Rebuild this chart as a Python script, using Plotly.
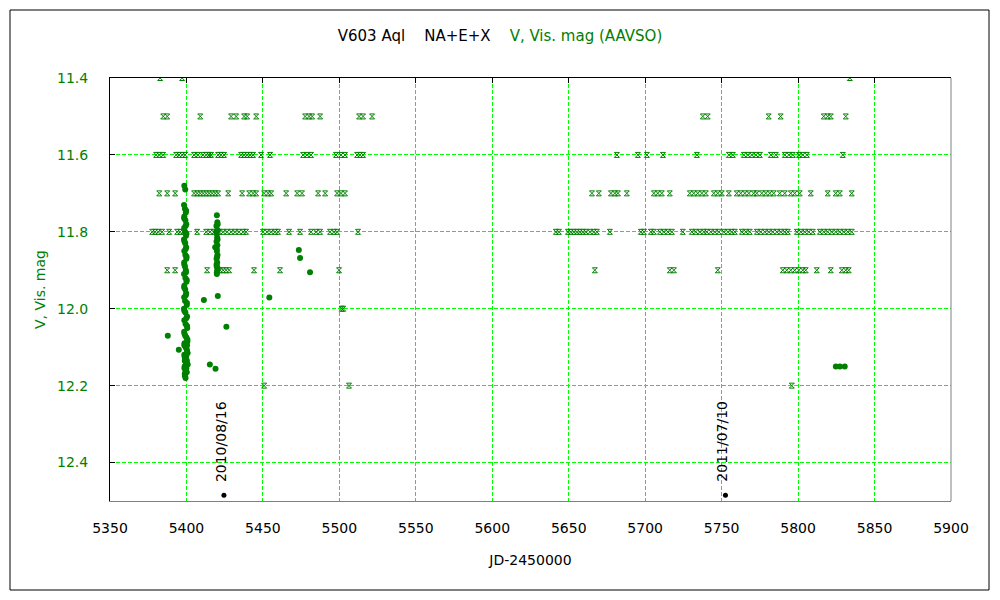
import plotly.graph_objects as go

# ---------------- data ----------------
# Visual estimates (AAVSO), JD-2450000 grouped by magnitude row
vis_11_4 = [5382.8, 5397.2, 5833.8]
vis_11_5 = [5384.8, 5387.4, 5409.0, 5429.2, 5432.5, 5437.7, 5439.7, 5445.6, 5477.6, 5480.2,
            5482.2, 5487.4, 5512.9, 5515.5, 5521.4, 5737.7, 5740.9, 5780.8, 5788.6, 5816.8,
            5819.4, 5821.4, 5831.2]
vis_11_6 = [5380.2, 5382.2, 5384.8, 5393.3, 5395.2, 5397.2, 5399.2, 5405.0, 5407.6, 5410.9,
            5412.9, 5414.8, 5416.1, 5420.7, 5422.7, 5424.6, 5435.8, 5437.7, 5439.7, 5441.6,
            5443.6, 5448.8, 5454.7, 5476.3, 5478.9, 5481.5, 5497.8, 5501.1, 5503.7, 5511.6,
            5513.5, 5515.5,
            5681.5, 5695.2, 5701.1, 5711.6, 5733.8, 5754.7, 5757.3, 5764.5, 5767.1, 5769.7,
            5772.4, 5775.0, 5782.2, 5785.4, 5791.3, 5793.9, 5796.5, 5800.5, 5803.1, 5805.7,
            5829.2]
vis_11_7 = [5382.2, 5387.4, 5392.6, 5405.0, 5407.0, 5409.0, 5410.9, 5412.9, 5414.8, 5416.8,
            5418.8, 5420.7, 5427.3, 5436.4, 5441.0, 5443.6, 5445.6, 5450.8, 5453.4, 5455.4,
            5465.2, 5472.4, 5475.6, 5486.1, 5490.7, 5498.5, 5501.1, 5503.7,
            5665.2, 5669.7, 5677.6, 5680.2, 5682.2, 5688.0, 5705.7, 5708.3, 5710.9, 5716.1,
            5729.2, 5731.8, 5734.4, 5737.1, 5739.7, 5744.9, 5747.5, 5750.1, 5754.7, 5759.9,
            5762.5, 5765.2, 5767.8, 5771.0, 5773.0, 5776.3, 5778.9, 5781.5, 5784.1, 5788.0,
            5791.3, 5795.2, 5797.8, 5801.1, 5808.3, 5819.4, 5824.6, 5827.3, 5835.1]
vis_11_8 = [5377.6, 5379.5, 5381.5, 5384.1, 5388.7, 5393.9, 5395.9, 5397.8, 5407.0, 5412.9,
            5415.5, 5418.1, 5421.4, 5424.0, 5426.6, 5429.2, 5431.8, 5434.4, 5437.1, 5439.0,
            5450.1, 5452.7, 5455.4, 5458.0, 5459.9, 5467.1, 5474.3, 5481.5, 5484.8, 5487.4,
            5493.9, 5496.5, 5498.5, 5512.2,
            5641.6, 5643.6, 5649.5, 5651.4, 5653.4, 5655.4, 5657.3, 5659.3, 5661.2, 5663.9,
            5666.5, 5668.4, 5676.9, 5697.2, 5699.2, 5703.7, 5705.7, 5709.6, 5712.2, 5714.8,
            5717.5, 5724.6, 5730.5, 5733.1, 5735.8, 5738.4, 5740.3, 5742.9, 5745.6, 5748.2,
            5751.4, 5754.1, 5756.7, 5758.6, 5763.2, 5765.8, 5768.4, 5773.0, 5775.6, 5778.2,
            5780.9, 5783.5, 5786.1, 5788.7, 5791.3, 5793.3, 5799.2, 5801.8, 5804.4, 5807.0,
            5809.6, 5814.2, 5816.8, 5819.4, 5822.0, 5824.6, 5827.3, 5829.9, 5832.5, 5835.1]
vis_11_9 = [5387.4, 5392.6, 5413.5, 5422.0, 5424.0, 5425.9, 5427.9, 5444.2, 5461.2, 5499.8,
            5667.1, 5716.1, 5718.8, 5747.5, 5790.0, 5792.6, 5795.2, 5797.8, 5800.5, 5803.1,
            5805.0, 5812.2, 5821.4, 5828.6, 5831.2, 5833.1]
vis_12_0 = [5501.5, 5502.5]
vis_12_2 = [5450.8, 5506.3, 5795.9]

vis_rows = {11.4: vis_11_4, 11.5: vis_11_5, 11.6: vis_11_6, 11.7: vis_11_7,
            11.8: vis_11_8, 11.9: vis_11_9, 12.0: vis_12_0, 12.2: vis_12_2}

# V-band photometry (AAVSO)
v_jd = [5398.6, 5399.2,
        5398.4, 5399.0, 5399.6, 5398.6, 5399.3, 5399.9, 5398.5, 5399.1, 5399.7, 5398.4,
        5399.2, 5399.8, 5398.6, 5399.3, 5399.9, 5398.5, 5399.0, 5399.6, 5398.4, 5399.3,
        5400.0, 5398.6, 5399.2, 5399.8, 5398.5, 5399.1, 5400.2, 5398.4, 5399.3, 5400.4,
        5398.6, 5399.4, 5400.5, 5398.5, 5399.2, 5400.6, 5398.7, 5399.5, 5400.4, 5398.6,
        5399.3, 5400.1, 5398.8, 5399.6, 5398.9, 5399.4,
        5399.8, 5398.5, 5399.4, 5400.0, 5398.7, 5399.5, 5400.1, 5398.6, 5399.7, 5400.2,
        5398.5, 5399.6, 5400.3, 5398.6, 5399.9, 5400.4, 5398.7, 5400.0, 5400.6, 5398.6,
        5400.1, 5400.7, 5398.8, 5400.3, 5400.8, 5398.7, 5400.2, 5400.6, 5398.9, 5399.9,
        5400.4, 5399.0, 5399.8, 5399.3, 5399.6,
        5419.9, 5420.2, 5419.6, 5420.3, 5419.8, 5420.1, 5419.7, 5420.2, 5418.8, 5419.9,
        5420.3, 5419.7, 5420.1, 5419.8, 5420.2, 5419.9, 5420.5,
        5420.4, 5419.6, 5420.3, 5419.8, 5420.0, 5419.7, 5420.4, 5419.9,
        5411.4, 5387.8, 5395.0, 5415.3, 5419.0, 5426.1, 5454.2, 5473.5, 5474.3, 5480.8,
        5824.7, 5827.3, 5830.5]
v_mag = [11.68, 11.69,
         11.73, 11.74, 11.75, 11.76, 11.77, 11.78, 11.79, 11.80, 11.81, 11.82,
         11.83, 11.84, 11.85, 11.86, 11.87, 11.88, 11.89, 11.90, 11.91, 11.92,
         11.93, 11.94, 11.95, 11.96, 11.97, 11.98, 11.99, 12.00, 12.01, 12.02,
         12.03, 12.04, 12.05, 12.06, 12.07, 12.08, 12.09, 12.10, 12.11, 12.12,
         12.13, 12.14, 12.15, 12.16, 12.17, 12.18,
         11.745, 11.765, 11.785, 11.805, 11.825, 11.845, 11.865, 11.885, 11.905, 11.925,
         11.945, 11.965, 11.985, 12.005, 12.025, 12.045, 12.065, 12.075, 12.085, 12.095,
         12.105, 12.115, 12.125, 12.135, 12.145, 12.155, 12.165, 12.115, 12.135, 12.155,
         12.095, 12.175, 12.125, 12.165, 12.145,
         11.757, 11.775, 11.785, 11.795, 11.805, 11.815, 11.825, 11.835, 11.84, 11.85,
         11.86, 11.87, 11.88, 11.89, 11.90, 11.91, 11.967,
         11.78, 11.80, 11.82, 11.845, 11.865, 11.885, 11.895, 11.905,
         11.977, 12.07, 12.107, 12.145, 12.156, 12.047, 11.971, 11.847, 11.868, 11.905,
         12.15, 12.15, 12.15]

# Observation epochs marked on the chart
event_jd = [5424.5, 5752.5]
event_label = ["2010/08/16", "2011/07/10"]
event_mag = [12.485, 12.485]

x_range = [5350, 5900]
y_range = [12.5, 11.4]

GREEN = "#008000"
LIME = "#00ff00"
FONT = "DejaVu Sans"

fig = go.Figure()

vx, vy = [], []
for mag, jds in vis_rows.items():
    vx += jds
    vy += [mag] * len(jds)

fig.add_trace(go.Scatter(
    x=vx, y=vy, mode="markers",
    marker=dict(symbol="hourglass-open", size=5, color=GREEN,
                line=dict(width=1, color=GREEN)),
    showlegend=False))

fig.add_trace(go.Scatter(
    x=v_jd, y=v_mag, mode="markers",
    marker=dict(symbol="circle", size=6, color=GREEN, line=dict(width=0)),
    showlegend=False))

fig.add_trace(go.Scatter(
    x=event_jd, y=event_mag, mode="markers",
    marker=dict(symbol="circle", size=5, color="black", line=dict(width=0)),
    showlegend=False))

# invisible trace for the top tick axis
fig.add_trace(go.Scatter(x=x_range, y=[12.5, 12.5], xaxis="x2", mode="markers",
                         marker=dict(opacity=0), showlegend=False, hoverinfo="skip"))

for jd, lab in zip(event_jd, event_label):
    fig.add_annotation(x=jd, y=12.455, text=lab, textangle=-90, showarrow=False,
                       xanchor="center", yanchor="bottom", xshift=-3,
                       font=dict(family=FONT, size=14, color="black"))

fig.update_layout(
    width=1000, height=600,
    template="none",
    paper_bgcolor="white", plot_bgcolor="white",
    font=dict(family=FONT, size=14, color="black"),
    margin=dict(l=110, r=49, t=78, b=99, autoexpand=False),
    title=dict(
        text="V603 Aql\u00a0\u00a0\u00a0\u00a0NA+E+X\u00a0\u00a0\u00a0\u00a0"
             "<span style='color:#008000'>V, Vis. mag (AAVSO)</span>",
        x=0.5, xref="container", xanchor="center",
        y=1 - 36 / 600, yref="container", yanchor="middle",
        font=dict(family=FONT, size=15, color="black")),
    xaxis=dict(
        range=x_range, tick0=5350, dtick=50,
        showgrid=True, gridcolor=LIME, griddash="4px,2px", gridwidth=1,
        zeroline=False, showline=True, linecolor="#808080", linewidth=1,
        ticks="", ticklabelstandoff=14,
        tickfont=dict(family=FONT, size=14, color="black"),
        title=dict(text="JD-2450000", standoff=20,
                   font=dict(family=FONT, size=14, color="black")),
        automargin=False),
    xaxis2=dict(
        range=x_range, overlaying="x", side="top", tick0=5350, dtick=50,
        showgrid=False, zeroline=False, showline=True, linecolor="black", linewidth=1,
        ticks="inside", ticklen=5, tickcolor="black", showticklabels=False,
        automargin=False),
    yaxis=dict(
        range=y_range, tick0=11.4, dtick=0.2, tickformat=".1f",
        showgrid=True, gridcolor=LIME, griddash="4px,2px", gridwidth=1,
        zeroline=False, showline=True, linecolor="black", linewidth=1,
        ticks="inside", ticklen=5, tickcolor="black", ticklabelstandoff=18,
        tickfont=dict(family=FONT, size=14, color=GREEN),
        title=dict(text="V, Vis. mag", standoff=8,
                   font=dict(family=FONT, size=14, color=GREEN)),
        automargin=False),
    shapes=[
        dict(type="line", xref="paper", yref="paper", x0=1, x1=1, y0=0, y1=1,
             line=dict(color="#808080", width=1), layer="above"),
        dict(type="rect", xref="paper", yref="paper",
             x0=(10 - 110) / 841, x1=(989 - 110) / 841,
             y0=(501 - 590) / 423, y1=(501 - 10) / 423,
             line=dict(color="black", width=1), fillcolor="rgba(0,0,0,0)", layer="above"),
    ],
)

fig.write_html("out.html",
               config={"displayModeBar": False},
               post_script="document.body.style.margin='0px';"
                           "document.body.style.padding='0px';"
                           "document.body.style.overflow='hidden';")
